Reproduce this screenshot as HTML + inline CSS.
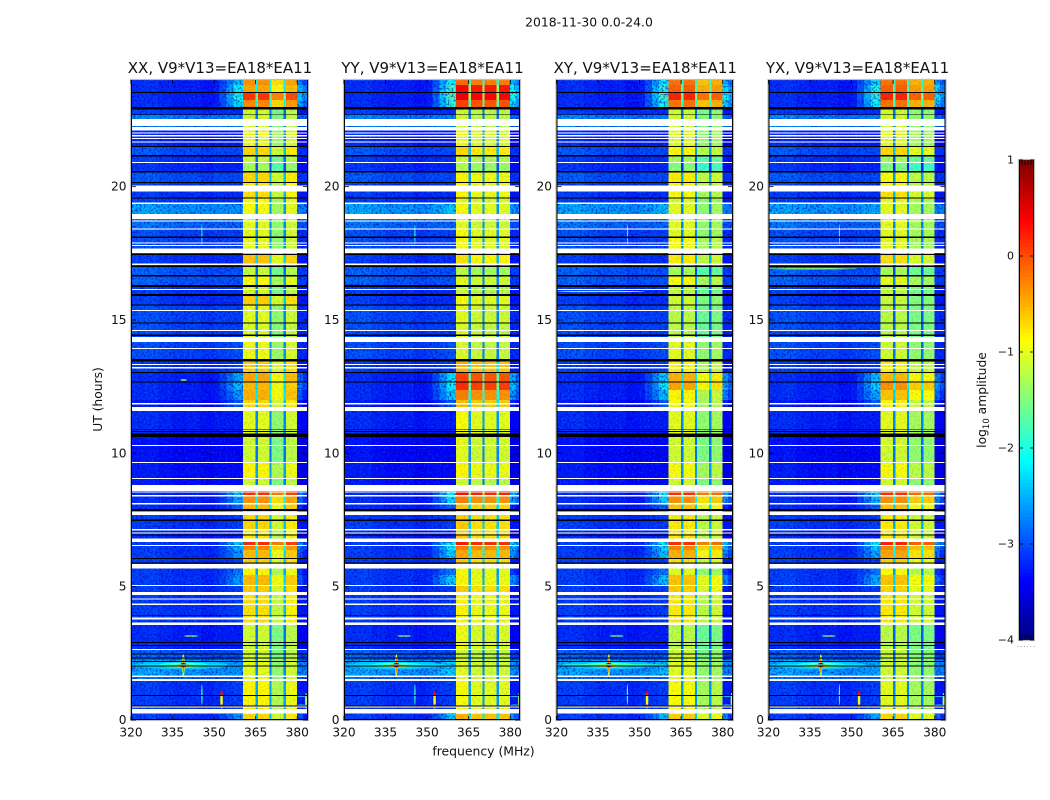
<!DOCTYPE html>
<html>
<head>
<meta charset="utf-8">
<title>2018-11-30 0.0-24.0</title>
<style>
html,body{margin:0;padding:0;background:#fff;width:1050px;height:800px;overflow:hidden}
svg{display:block;font-family:"DejaVu Sans","Liberation Sans",sans-serif;fill:#111}
</style>
</head>
<body>
<svg id="chart" xmlns="http://www.w3.org/2000/svg" width="1050" height="800" viewBox="0 0 1050 800">
<defs>
<filter id="grain-dark" x="0" y="0" width="1" height="1" color-interpolation-filters="sRGB">
<feTurbulence type="fractalNoise" baseFrequency="0.5" numOctaves="2" seed="4"/>
<feColorMatrix type="matrix" values="0 0 0 0 0  0 0 0 0 0  0 0 0 0 0.7  4.5 0 0 0 -2.1"/>
</filter>
<filter id="grain-light" x="0" y="0" width="1" height="1" color-interpolation-filters="sRGB">
<feTurbulence type="fractalNoise" baseFrequency="0.5" numOctaves="2" seed="11"/>
<feColorMatrix type="matrix" values="0 0 0 0 0  0 0 0 0 0.55  0 0 0 0 1  0 4.5 0 0 -2.3"/>
</filter>
</defs>
<text x="589" y="26.5" font-size="12.4" text-anchor="middle">2018-11-30 0.0-24.0</text>
<text x="483.5" y="755.5" font-size="12.4" text-anchor="middle">frequency (MHz)</text>
<text x="0" y="0" font-size="12.3" text-anchor="middle" transform="translate(102 399.5) rotate(-90)">UT (hours)</text>
<text x="0" y="0" font-size="12.3" text-anchor="middle" transform="translate(986 400) rotate(-90)">log<tspan font-size="8.5" dy="3">10</tspan><tspan dy="-3"> amplitude</tspan></text>
<text x="1026.5" y="647" font-size="7" fill="#777" text-anchor="middle" letter-spacing="1">......</text>
<g id="panels"></g>
<g id="colorbar"></g>
</svg>
<script>
// ---- Axis data ----
const freqTicks = [320, 335, 350, 365, 380];
const hourTicks = [0, 5, 10, 15, 20];
const colorbarTicks = [1, 0, -1, -2, -3, -4];
const panelTitles = ["XX, V9*V13=EA18*EA11", "YY, V9*V13=EA18*EA11", "XY, V9*V13=EA18*EA11", "YX, V9*V13=EA18*EA11"];
const panelKeys = ["xx", "yy", "xy", "yx"];

// ---- Heatmap: time bands (top edge in UT hours), levels in log10 amplitude ----
const bandTopHour = [24,23.81,23.51,23.25,22.99,22.69,22.24,21.49,21.15,20.89,20.55,20.14,19.8,19.54,19.35,18.79,18.38,18.08,17.51,17.1,16.65,16.28,15.9,15.53,14.89,14.18,13.43,13.01,12.68,12.38,12,11.59,10.61,9.64,9.04,8.59,8.4,8.1,7.69,7.13,6.68,6.53,6.38,6.04,5.7,5.44,5.03,4.69,3.56,2.63,2.25,1.69,1.46,0.23];
const bandNoise = [-3.25,-3.25,-3.25,-3.25,-3.15,-2.75,-3.25,-3,-3.15,-3.2,-3,-3.15,-3.15,-3.15,-2.6,-2.85,-3.05,-3.05,-3.15,-2.95,-2.95,-3.15,-3.15,-3.05,-3.05,-3.05,-3.15,-3.25,-3.25,-3.25,-3.35,-3.25,-3.4,-3.35,-3.35,-3.25,-3.25,-3.25,-3.15,-3.25,-3.15,-3.15,-3.15,-3.15,-3.15,-3.15,-3.15,-3.15,-3.25,-2.95,-2.6,-2.85,-3.15,-3.15];
const bandRamp = [-2.4,-2.1,-2,-2.2,-3.15,-2.7,-3.25,-3,-3.15,-3.2,-3,-3.15,-3.15,-3.15,-2.6,-2.85,-3.05,-3.05,-3.15,-2.95,-2.95,-3.15,-3.15,-3.05,-3.05,-2.95,-3.05,-2.5,-2.4,-2.6,-2.9,-3.25,-3.4,-3.35,-3.35,-2.4,-2.5,-2.85,-3.05,-3.25,-2.3,-2.4,-2.6,-3.05,-2.75,-2.6,-3.05,-3.05,-3.25,-2.95,-2.6,-2.85,-3.05,-2.6];
const blockLevelXX = [-0.35,-0.45,0.1,-0.3,-1.1,-1.1,-0.95,-0.7,-1.15,-1.3,-0.7,-0.8,-0.75,-0.9,-0.9,-1,-1,-1,-0.6,-1.15,-0.9,-1.1,-0.65,-1,-1.05,-0.95,-0.65,-0.45,-0.55,-0.5,-0.7,-1,-1.1,-0.85,-1.1,0.15,-0.35,-0.55,-0.7,-0.8,0.15,-0.3,-0.55,-0.65,-0.85,-0.55,-0.65,-0.75,-1.1,-1.1,-1,-1,-0.85,-0.7];
const blockLevelYY = [-0.15,0.35,0.45,0.05,-1.1,-1.1,-0.95,-0.7,-1.15,-1.25,-0.85,-0.85,-0.85,-1,-0.9,-1,-0.9,-0.9,-0.75,-1.2,-1,-1.15,-0.9,-1,-1.05,-1.05,-0.5,0.05,0.15,-0.25,-0.55,-0.9,-1,-0.85,-1.1,0.3,-0.25,-0.6,-0.65,-0.65,0.25,-0.25,-0.45,-0.65,-0.9,-0.85,-0.65,-0.85,-0.95,-1.1,-1,-1,-0.9,-0.5];
const blockLevelXY = [-0.2,-0.1,0.2,-0.2,-1.1,-1.1,-1,-0.85,-1.3,-1.45,-0.8,-0.85,-0.9,-1.1,-1,-1,-1,-0.9,-0.8,-1.3,-0.9,-1.2,-1.1,-1.2,-1.2,-1,-0.85,-0.5,-0.45,-0.85,-0.9,-1,-1.1,-0.9,-1.1,0.15,-0.35,-0.6,-0.8,-0.8,0.15,-0.3,-0.5,-0.75,-1,-0.6,-0.65,-0.8,-1.2,-1.1,-1,-1,-0.9,-0.65];
const blockLevelYX = [-0.2,-0.1,0.2,-0.2,-1.1,-1.1,-1,-0.7,-1.3,-1.5,-0.9,-0.85,-0.75,-1,-1,-1,-1,-1,-0.75,-1.3,-1,-1.2,-1.15,-1.2,-1.2,-1.1,-0.85,-0.55,-0.35,-0.6,-0.85,-1,-1.1,-0.9,-1.1,0.15,-0.35,-0.6,-0.8,-0.8,0.2,-0.3,-0.45,-0.65,-0.9,-0.6,-0.7,-0.8,-1.2,-1.15,-1.1,-1.1,-1,-0.7];
const blockOffsetXX = [0, 0, -0.4, -0.1];
const blockOffsetYY = [0, -0.1, -0.1, -0.1];
const blockOffsetXY = [0, 0, -0.4, -0.3];
const blockOffsetYX = [0, 0, -0.3, -0.3];
const rampOffset = [0, 0.3, 0.2, 0.1];
const lowEdges = [320,325,330,335,340,345,350,352];
const lowOffset = [0.1,0.12,0.05,0,0.02,-0.05,0];
const rampEdges = [352,354.5,357,360.4];
const rampShare = [0.25,0.6,1];
const blockEdges = [[360.4,365],[365.8,370],[370.8,375.1],[375.9,380]];
const gapEdges = [[365,365.8],[370,370.8],[375.1,375.9]];
const tailEdges = [380,382,384];

// ---- Flagged time ranges: [start hour, end hour] ----
const whiteFlags = [[22.54,22.28],[22.24,22.10],[22.03,21.99],[21.93,21.88],[21.83,21.78],[21.69,21.65],[20.93,20.88],[20.04,19.81],[19.40,19.35],[18.98,18.79],[18.74,18.69],[18.44,18.39],[17.91,17.87],[17.81,17.77],[17.68,17.51],[17.12,17.07],[16.17,16.13],[15.38,15.33],[14.63,14.58],[14.36,14.18],[13.95,13.91],[13.35,13.31],[13.24,13.19],[11.89,11.84],[11.74,11.59],[10.31,10.27],[9.68,9.63],[9.08,9.03],[8.81,8.59],[8.57,8.53],[8.44,8.39],[8.14,8.09],[7.82,7.69],[7.16,7.11],[7.03,6.99],[6.80,6.68],[6.57,6.52],[5.85,5.68],[5.06,5.03],[4.80,4.69],[4.56,4.51],[4.37,4.32],[3.84,3.77],[3.65,3.56],[2.66,2.62],[1.67,1.62],[1.54,1.46],[0.50,0.46],[0.41,0.24]];
const blackFlags = [[23.55,23.51],[22.99,22.89],[22.71,22.68],[21.53,21.48],[21.18,21.13],[20.59,20.54],[20.18,20.13],[19.60,19.55],[18.13,18.08],[17.48,17.43],[17.04,16.99],[16.69,16.64],[16.31,16.24],[15.98,15.90],[15.58,15.54],[14.91,14.86],[14.46,14.40],[13.54,13.44],[13.05,13.01],[12.70,12.66],[10.92,10.89],[10.84,10.80],[10.75,10.62],[7.91,7.84],[7.52,7.47],[6.96,6.91],[6.08,6.04],[5.90,5.86],[3.94,3.91],[2.93,2.89],[2.81,2.78],[2.49,2.45],[2.34,2.31],[2.21,2.18],[2.04,2.01],[0.94,0.90],[0.54,0.50]];

// ---- Interference features: centre frequency, centre hour, half-widths, level, panel (-1 = all) ----
const rfiFreq  = [338.9,338.9,338.9,338.9,338.9,338.9,338.9,338.9,340,352.7,352.7,352.7,345.6,383.2,381.5,381.5,341.7,341.7,345.6,336,336,339,340];
const rfiHour  = [2.06,2.06,2.06,2.06,2.06,2.06,2.06,2.06,2.06,0.75,1.0,0.52,0.95,0.72,0.55,0.9,3.15,3.15,18.2,16.07,16.92,12.75,2.06];
const rfiHalfF = [16,9,5,2.5,1.1,0.5,0.3,0.7,20,0.45,0.5,0.5,0.25,0.35,1.6,1.6,2.5,0.4,0.2,16,16,1.2,20];
const rfiHalfH = [0.16,0.1,0.08,0.07,0.1,0.42,0.3,0.08,0.025,0.32,0.06,0.06,0.4,0.3,0.03,0.03,0.03,0.03,0.4,0.025,0.025,0.03,0.03];
const rfiLevel = [-2.4,-1.9,-1.2,-0.5,0.3,-1.2,-0.2,0.9,-2.1,-0.9,0.4,0.4,-1.9,-1.2,-2,-2,-1.7,-0.2,-1.9,-1.6,-1.4,-1.4,-1.7];
const rfiPanel = [-1,-1,-1,-1,-1,-1,-1,-1,-1,-1,-1,-1,-1,-1,-1,-1,-1,-1,-1,2,3,0,2];

// ---- Layout (not data) ----
const SVGNS = "http://www.w3.org/2000/svg";
const panelLeft = [131, 344, 556.5, 768.5];
const panelRight = [308, 520, 733, 945.5];
const plotTop = 80, plotBottom = 720;
const freqMin = 320, pxPerMHz = 2.77;
const hourMax = 24;
const cbarLeft = 1019, cbarRight = 1034, cbarTop = 160, cbarBottom = 640;
const levelMin = -4, levelMax = 1;

function make(tag, attrs, parent) {
  const el = document.createElementNS(SVGNS, tag);
  for (const k in attrs) el.setAttribute(k, attrs[k]);
  parent.appendChild(el);
  return el;
}
function yOfHour(h) { return plotBottom - (plotBottom - plotTop) * h / hourMax; }
function xOfFreq(p, f) { return Math.min(panelLeft[p] + (f - freqMin) * pxPerMHz, panelRight[p]); }
function yOfLevel(v) { return cbarBottom - (cbarBottom - cbarTop) * (v - levelMin) / (levelMax - levelMin); }
function jet(v) {
  const t = Math.max(0, Math.min(1, (v - levelMin) / (levelMax - levelMin)));
  const ch = c => Math.round(255 * Math.max(0, Math.min(1, 1.5 - Math.abs(4 * t - c))));
  return "rgb(" + ch(3) + "," + ch(2) + "," + ch(1) + ")";
}

const panelsRoot = document.getElementById("panels");
const blockLevels = [blockLevelXX, blockLevelYY, blockLevelXY, blockLevelYX];
const blockOffsets = [blockOffsetXX, blockOffsetYY, blockOffsetXY, blockOffsetYX];

function heatCell(group, p, f0, f1, h0, h1, level) {
  const x0 = xOfFreq(p, f0), x1 = xOfFreq(p, f1);
  const y0 = yOfHour(h0), y1 = yOfHour(h1);
  const c = make("rect", {x: x0, y: y0, width: Math.max(0, x1 - x0), height: Math.max(0, y1 - y0), fill: jet(level)}, group);
  
  
}

panelTitles.forEach(function (title, p) {
  const key = panelKeys[p];
  const L = panelLeft[p], R = panelRight[p];
  const g = make("g", {}, panelsRoot);
  
  

  const heat = make("g", {"shape-rendering": "crispEdges"}, g);
  
  

  bandTopHour.forEach(function (top, b) {
    const bottom = b + 1 < bandTopHour.length ? bandTopHour[b + 1] : 0;
    const noise = bandNoise[b];
    const ramp = bandRamp[b] + (bandRamp[b] > -2.7 ? rampOffset[p] : 0);
    const block = blockLevels[p][b];
    for (let i = 0; i + 1 < lowEdges.length; i++) heatCell(heat, p, lowEdges[i], lowEdges[i + 1], top, bottom, noise + lowOffset[i]);
    for (let i = 0; i + 1 < rampEdges.length; i++) heatCell(heat, p, rampEdges[i], rampEdges[i + 1], top, bottom, noise + (ramp - noise) * rampShare[i]);
    blockEdges.forEach(function (e, i) { heatCell(heat, p, e[0], e[1], top, bottom, block + blockOffsets[p][i]); });
    gapEdges.forEach(function (e) { heatCell(heat, p, e[0], e[1], top, bottom, block - 1.7); });
    for (let i = 0; i + 1 < tailEdges.length; i++) heatCell(heat, p, tailEdges[i], tailEdges[i + 1], top, bottom, Math.max(noise - 0.1, ramp - (i === 0 ? 0.3 : 0.6)));
  });

  // Receiver-noise grain laid over the heatmap
  const lowRight = xOfFreq(p, blockEdges[0][0]);
  const tailLeft = xOfFreq(p, tailEdges[0]);
  const gr1 = make("rect", {x: L, y: plotTop, width: lowRight - L, height: plotBottom - plotTop, filter: "url(#grain-dark)", opacity: 0.6}, g);
  
  
  const gr2 = make("rect", {x: L, y: plotTop, width: lowRight - L, height: plotBottom - plotTop, filter: "url(#grain-light)", opacity: 0.25}, g);
  
  
  const gr3 = make("rect", {x: lowRight, y: plotTop, width: tailLeft - lowRight, height: plotBottom - plotTop, filter: "url(#grain-dark)", opacity: 0.1}, g);
  
  
  const gr4 = make("rect", {x: tailLeft, y: plotTop, width: R - tailLeft, height: plotBottom - plotTop, filter: "url(#grain-dark)", opacity: 0.6}, g);
  
  

  // Interference
  rfiFreq.forEach(function (f, i) {
    if (rfiPanel[i] !== -1 && rfiPanel[i] !== p) return;
    const e = make("ellipse", {cx: xOfFreq(p, f), cy: yOfHour(rfiHour[i]), rx: rfiHalfF[i] * pxPerMHz, ry: rfiHalfH[i] * (plotBottom - plotTop) / hourMax, fill: jet(rfiLevel[i])}, g);
    
    
  });

  // Flags
  const flags = make("g", {"shape-rendering": "crispEdges"}, g);
  
  
  whiteFlags.forEach(function (r) {
    const s = make("rect", {x: L, y: yOfHour(r[0]), width: R - L, height: yOfHour(r[1]) - yOfHour(r[0]), fill: "#fff"}, flags);
    
    
  });
  blackFlags.forEach(function (r) {
    const s = make("rect", {x: L, y: yOfHour(r[0]), width: R - L, height: yOfHour(r[1]) - yOfHour(r[0]), fill: "#000"}, flags);
    
    
  });

  // Spines
  const frame = make("rect", {x: L - 0.5, y: plotTop - 0.5, width: R - L + 1, height: plotBottom - plotTop + 1, fill: "none", stroke: "#bdbdbd", "stroke-width": 1.2}, g);
  
  
  [[L + 0.5, plotTop, L + 0.5, plotBottom], [R - 0.5, plotTop, R - 0.5, plotBottom], [L, plotBottom - 0.5, R, plotBottom - 0.5]].forEach(function (s) {
    const ln = make("line", {x1: s[0], y1: s[1], x2: s[2], y2: s[3], stroke: "#000", "stroke-width": 1}, g);
    
    
  });

  // Ticks
  freqTicks.forEach(function (f) {
    const x = xOfFreq(p, f);
    const t1 = make("line", {x1: x, y1: plotBottom, x2: x, y2: plotBottom - 4, stroke: "#000", "stroke-width": 0.8}, g);
    
    
    const t2 = make("line", {x1: x, y1: plotTop, x2: x, y2: plotTop + 4, stroke: "#000", "stroke-width": 0.8}, g);
    
    
    const lab = make("text", {x: x, y: 736.5, "font-size": 12.2, "text-anchor": "middle"}, g);
    
    
    lab.textContent = f;
  });
  hourTicks.forEach(function (h) {
    const y = yOfHour(h);
    const t1 = make("line", {x1: L, y1: y, x2: L + 5, y2: y, stroke: "#000", "stroke-width": 0.8}, g);
    
    
    const t2 = make("line", {x1: R, y1: y, x2: R - 5, y2: y, stroke: "#000", "stroke-width": 0.8}, g);
    
    
    const lab = make("text", {x: L - 4.5, y: y + 4, "font-size": 12.2, "text-anchor": "end"}, g);
    
    
    lab.textContent = h;
  });

  const tt = make("text", {x: (L + R) / 2 + 0.5, y: 73, "font-size": 15, "text-anchor": "middle"}, g);
  
  
  tt.textContent = title;
});

// ---- Colour bar ----
const cb = document.getElementById("colorbar");
const cbRows = make("g", {"shape-rendering": "crispEdges"}, cb);


for (let i = 0; i < 128; i++) {
  const v0 = levelMin + (levelMax - levelMin) * i / 128, v1 = levelMin + (levelMax - levelMin) * (i + 1) / 128;
  const r = make("rect", {x: cbarLeft, y: yOfLevel(v1), width: cbarRight - cbarLeft, height: yOfLevel(v0) - yOfLevel(v1) + 0.5, fill: jet((v0 + v1) / 2)}, cbRows);
  
  
}
const cbFrame = make("rect", {x: cbarLeft - 0.5, y: cbarTop - 0.5, width: cbarRight - cbarLeft + 1, height: cbarBottom - cbarTop + 1, fill: "none", stroke: "#bdbdbd", "stroke-width": 1.2}, cb);


[cbarLeft + 0.5, cbarRight - 0.5].forEach(function (x) {
  const s = make("line", {x1: x, y1: cbarTop, x2: x, y2: cbarBottom, stroke: "#000", "stroke-width": 1}, cb);
  
  
});
colorbarTicks.forEach(function (v) {
  const y = yOfLevel(v);
  const t1 = make("line", {x1: cbarLeft, y1: y, x2: cbarLeft + 4, y2: y, stroke: "#000", "stroke-width": 0.8}, cb);
  
  
  const t2 = make("line", {x1: cbarRight, y1: y, x2: cbarRight - 4, y2: y, stroke: "#000", "stroke-width": 0.8}, cb);
  
  
  const lab = make("text", {x: cbarLeft - 5, y: y + 3.5, "font-size": 11, "text-anchor": "end"}, cb);
  
  
  lab.textContent = v < 0 ? "\u2212" + Math.abs(v) : String(v);
});
[0.2, 0.4, 0.6, 0.8].forEach(function (frac) {
  const x = cbarLeft + (cbarRight - cbarLeft) * frac;
  const a = make("line", {x1: x, y1: cbarTop, x2: x, y2: cbarTop + 5, stroke: "#000", "stroke-width": 0.8}, cb);
  
  
  const c = make("line", {x1: x, y1: cbarBottom, x2: x, y2: cbarBottom - 5, stroke: "#000", "stroke-width": 0.8}, cb);
  
  
});
</script>
</body>
</html>
